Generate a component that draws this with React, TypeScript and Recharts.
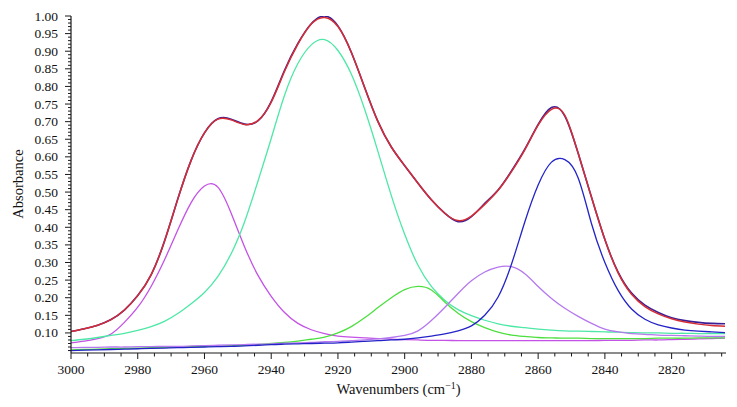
import { LineChart, Line, XAxis, YAxis, Label } from "recharts";

// wavenumber grid (cm-1), read every 4 units
const wavenumbers = [
  3000, 2996, 2992, 2988, 2984, 2980, 2976, 2972, 2968, 2964, 2960, 2956, 2952,
  2948, 2944, 2940, 2936, 2932, 2928, 2924, 2920, 2916, 2912, 2908, 2904, 2900,
  2896, 2892, 2888, 2884, 2880, 2876, 2872, 2868, 2864, 2860, 2856, 2852, 2848,
  2844, 2840, 2836, 2832, 2828, 2824, 2820, 2816, 2812, 2808, 2804,
];

// measured spectrum (dark, under the fit)
const measured = [
  0.104, 0.112, 0.122, 0.138, 0.165, 0.206, 0.265, 0.36, 0.48, 0.59, 0.668,
  0.708, 0.707, 0.693, 0.702, 0.757, 0.846, 0.922, 0.978, 1.0, 0.972, 0.897,
  0.797, 0.7, 0.628, 0.575, 0.525, 0.478, 0.44, 0.416, 0.43, 0.468, 0.506,
  0.56, 0.622, 0.692, 0.74, 0.716, 0.61, 0.485, 0.365, 0.272, 0.213, 0.179,
  0.158, 0.143, 0.135, 0.13, 0.127, 0.126,
];

// cumulative fit (red)
const fit = [
  0.104, 0.112, 0.122, 0.138, 0.165, 0.206, 0.265, 0.36, 0.48, 0.59, 0.668,
  0.707, 0.705, 0.692, 0.703, 0.755, 0.843, 0.92, 0.977, 0.996, 0.97, 0.897,
  0.797, 0.7, 0.628, 0.575, 0.525, 0.478, 0.44, 0.419, 0.432, 0.465, 0.505,
  0.558, 0.62, 0.69, 0.735, 0.718, 0.61, 0.485, 0.365, 0.27, 0.21, 0.175,
  0.154, 0.14, 0.131, 0.125, 0.121, 0.119,
];

// band at ~2958
const band2958 = [
  0.072, 0.077, 0.084, 0.097, 0.13, 0.173, 0.232, 0.307, 0.392, 0.47, 0.517,
  0.514, 0.44, 0.345, 0.264, 0.204, 0.158, 0.127, 0.109, 0.098, 0.091, 0.088,
  0.086, 0.084, 0.082, 0.081, 0.08, 0.079, 0.079, 0.078, 0.078, 0.078, 0.078,
  0.078, 0.078, 0.078, 0.078, 0.078, 0.078, 0.078, 0.079, 0.079, 0.079, 0.08,
  0.08, 0.081, 0.082, 0.083, 0.084, 0.085,
];

// band at ~2925
const band2925 = [
  0.078, 0.082, 0.087, 0.093, 0.099, 0.107, 0.118, 0.133, 0.155, 0.183, 0.215,
  0.26, 0.325, 0.415, 0.53, 0.652, 0.775, 0.865, 0.918, 0.933, 0.902, 0.835,
  0.735, 0.615, 0.49, 0.38, 0.292, 0.232, 0.193, 0.166, 0.149, 0.136, 0.126,
  0.119, 0.115, 0.111, 0.108, 0.106, 0.105, 0.104, 0.103, 0.102, 0.101, 0.1,
  0.1, 0.099, 0.099, 0.098, 0.098, 0.098,
];

// band at ~2896
const band2896 = [
  0.052, 0.053, 0.054, 0.055, 0.056, 0.057, 0.058, 0.059, 0.06, 0.061, 0.062,
  0.063, 0.064, 0.065, 0.067, 0.07, 0.073, 0.077, 0.082, 0.088, 0.1, 0.118,
  0.143, 0.172, 0.2, 0.223, 0.232, 0.222, 0.188, 0.156, 0.132, 0.115, 0.102,
  0.094, 0.09, 0.087, 0.086, 0.085, 0.085, 0.084, 0.084, 0.084, 0.084, 0.084,
  0.085, 0.085, 0.085, 0.086, 0.086, 0.086,
];

// band at ~2870
const band2870 = [
  0.058, 0.059, 0.059, 0.06, 0.06, 0.061, 0.061, 0.062, 0.062, 0.063, 0.064,
  0.065, 0.066, 0.067, 0.068, 0.069, 0.071, 0.072, 0.073, 0.075, 0.076, 0.078,
  0.08, 0.083, 0.087, 0.093, 0.106, 0.135, 0.172, 0.212, 0.248, 0.273, 0.287,
  0.288, 0.268, 0.232, 0.198, 0.17, 0.147, 0.127, 0.111, 0.103, 0.098, 0.096,
  0.094, 0.093, 0.092, 0.091, 0.09, 0.09,
];

// band at ~2853
const band2853 = [
  0.05, 0.051, 0.052, 0.053, 0.054, 0.055, 0.056, 0.057, 0.058, 0.059, 0.06,
  0.061, 0.062, 0.063, 0.065, 0.067, 0.068, 0.069, 0.07, 0.071, 0.072, 0.074,
  0.076, 0.078, 0.08, 0.082, 0.086, 0.091, 0.097, 0.106, 0.12, 0.15, 0.202,
  0.295, 0.415, 0.52, 0.585, 0.592, 0.54, 0.41, 0.3, 0.22, 0.168, 0.139, 0.123,
  0.114, 0.108, 0.105, 0.103, 0.101,
];

const yLabelTicks = [
  0.1, 0.15, 0.2, 0.25, 0.3, 0.35, 0.4, 0.45, 0.5, 0.55, 0.6, 0.65, 0.7, 0.75,
  0.8, 0.85, 0.9, 0.95, 1.0,
];
const xLabelTicks = [3000, 2980, 2960, 2940, 2920, 2900, 2880, 2860, 2840, 2820];

const data = wavenumbers.map((w, i) => ({
  w,
  measured: measured[i],
  fit: fit[i],
  b2958: band2958[i],
  b2925: band2925[i],
  b2896: band2896[i],
  b2870: band2870[i],
  b2853: band2853[i],
}));

// minor ticks: every 0.01 on y, every 5 on x
const yTicks: number[] = [];
for (let k = 5; k <= 100; k++) yTicks.push(k / 100);
const xTicks: number[] = [];
for (let k = 3000; k >= 2805; k -= 5) xTicks.push(k);

const FONT = "'Liberation Serif', serif";
const AXIS = "#1a1a1a";

function YTick(props: any) {
  const { x, y, payload } = props;
  const v = Math.round(payload.value * 100) / 100;
  const major = yLabelTicks.some((t) => Math.abs(t - v) < 1e-6);
  return (
    <g>
      <line x1={x - (major ? 6 : 3)} x2={x} y1={y} y2={y} stroke={AXIS} strokeWidth={1} />
      {major && (
        <text x={x - 13} y={y + 4.5} textAnchor="end" fontFamily={FONT} fontSize={13.5} fill="#111">
          {v.toFixed(2)}
        </text>
      )}
    </g>
  );
}

function XTick(props: any) {
  const { x, y, payload } = props;
  const major = xLabelTicks.includes(payload.value);
  return (
    <g>
      <line x1={x} x2={x} y1={y} y2={y + (major ? 6 : 3.5)} stroke={AXIS} strokeWidth={1} />
      {major && (
        <text x={x} y={y + 21} textAnchor="middle" fontFamily={FONT} fontSize={13.5} fill="#111">
          {payload.value}
        </text>
      )}
    </g>
  );
}

export default function App() {
  return (
    <div style={{ width: 737, height: 407, background: "#fff" }}>
      <style>{`body{margin:0;background:#fff}`}</style>
      <LineChart
        width={737}
        height={407}
        data={data}
        margin={{ top: 16, right: 11, bottom: 0, left: 0 }}
      >
        <XAxis
          dataKey="w"
          type="number"
          domain={[2803.7, 3000]}
          reversed
          allowDataOverflow
          ticks={xTicks}
          interval={0}
          tickSize={0}
          tickMargin={0}
          tickLine={false}
          tick={XTick}
          height={54}
          axisLine={{ stroke: AXIS, strokeWidth: 1.2 }}
        >
          <Label
            content={() => (
              <text x={398.5} y={394} textAnchor="middle" fontFamily={FONT} fontSize={14.5} fill="#111">
                Wavenumbers (cm
                <tspan dy={-5} fontSize={10}>
                  −1
                </tspan>
                <tspan dy={5}>)</tspan>
              </text>
            )}
          />
        </XAxis>
        <YAxis
          type="number"
          domain={[0.043, 1.0]}
          allowDataOverflow
          ticks={yTicks}
          interval={0}
          tickSize={0}
          tickMargin={0}
          tickLine={false}
          tick={YTick}
          width={71}
          axisLine={{ stroke: AXIS, strokeWidth: 1.2 }}
        >
          <Label
            content={() => (
              <text
                x={23}
                y={184}
                transform="rotate(-90 23 184)"
                textAnchor="middle"
                fontFamily={FONT}
                fontSize={14.5}
                fill="#111"
              >
                Absorbance
              </text>
            )}
          />
        </YAxis>
        <Line dataKey="measured" type="natural" stroke="#3b1e96" strokeWidth={1.6} dot={false} isAnimationActive={false} />
        <Line dataKey="b2958" type="natural" stroke="#c452e6" strokeWidth={1.3} dot={false} isAnimationActive={false} />
        <Line dataKey="b2925" type="natural" stroke="#4de8a6" strokeWidth={1.3} dot={false} isAnimationActive={false} />
        <Line dataKey="b2896" type="natural" stroke="#4ddf3f" strokeWidth={1.3} dot={false} isAnimationActive={false} />
        <Line dataKey="b2870" type="natural" stroke="#b678ee" strokeWidth={1.3} dot={false} isAnimationActive={false} />
        <Line dataKey="b2853" type="natural" stroke="#2323c8" strokeWidth={1.3} dot={false} isAnimationActive={false} />
        <Line dataKey="fit" type="natural" stroke="#d62d33" strokeWidth={1.5} dot={false} isAnimationActive={false} />
      </LineChart>
    </div>
  );
}
